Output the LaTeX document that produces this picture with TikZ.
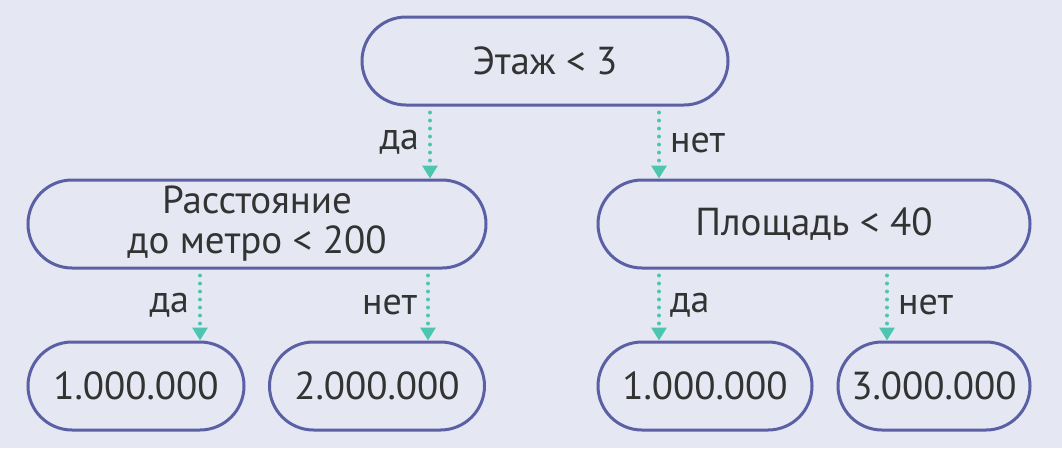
\documentclass[tikz,border=0pt]{standalone}
\usepackage{fontspec}
\setmainfont{PT Sans}
\usetikzlibrary{arrows.meta}

\definecolor{bgcol}{HTML}{E5E8F3}
\definecolor{boxcol}{HTML}{5B5FA3}
\definecolor{arrcol}{HTML}{4CC6B0}
\definecolor{txtcol}{HTML}{333333}

\tikzset{
	decision/.style = {draw = boxcol, line width = 3pt, rounded corners = 44pt,
		minimum height = 88pt, inner sep = 0pt, align = center, text = txtcol,
		font = \fontsize{39}{40}\selectfont},
	branch/.style = {draw = arrcol, line width = 4pt, line cap = round,
		dash pattern = on 0pt off 8pt, shorten < = 6pt,
		-{Triangle[width = 15pt, length = 13pt]}},
	answer/.style = {text = txtcol, font = \fontsize{38}{40}\selectfont, inner sep = 9pt}
}

\begin{document}
\begin{tikzpicture}[x = 1pt, y = -1pt]

	% Background

	\fill [bgcol] (0, 0) rectangle (1062, 448);

	% Tree nodes

	\node [decision, minimum width = 366pt] (floor) at (545, 61) {Этаж < 3};

	\node [decision, minimum width = 458pt] (metro) at (257, 224) {Расстояние\\до метро < 200};
	\node [decision, minimum width = 432pt] (area) at (814, 224) {Площадь < 40};

	\node [decision, minimum width = 216pt] (priceA) at (136, 386) {1.000.000};
	\node [decision, minimum width = 215pt] (priceB) at (377, 386) {2.000.000};
	\node [decision, minimum width = 214pt] (priceC) at (705, 386) {1.000.000};
	\node [decision, minimum width = 192pt] (priceD) at (934, 386) {3.000.000};

	% Branches

	\draw [branch] ([xshift = -115pt] floor.south) -- node [answer, left] {да} ([xshift = 173pt] metro.north);
	\draw [branch] ([xshift = 114pt] floor.south) -- node [answer, right] {нет} ([xshift = -155pt] area.north);

	\draw [branch] ([xshift = -57pt] metro.south) -- node [answer, left] {да} ([xshift = 64pt] priceA.north);
	\draw [branch] ([xshift = 171pt] metro.south) -- node [answer, left] {нет} ([xshift = 51pt] priceB.north);

	\draw [branch] ([xshift = -155pt] area.south) -- node [answer, right] {да} ([xshift = -46pt] priceC.north);
	\draw [branch] ([xshift = 73pt] area.south) -- node [answer, right] {нет} ([xshift = -47pt] priceD.north);

\end{tikzpicture}
\end{document}
